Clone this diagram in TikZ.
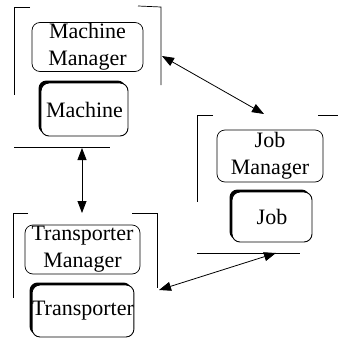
\documentclass[tikz,border=0pt]{standalone}
\usepackage{fontspec}
\setmainfont{Liberation Serif}
\usetikzlibrary{arrows.meta,shadows}
\begin{document}
\begin{tikzpicture}[x=1pt,y=-1pt,
  mgr/.style={draw,rounded corners=8pt,line width=0.7pt,inner sep=0pt,align=center,
    font=\fontsize{22}{27}\selectfont,fill=white},
  obj/.style={draw,rounded corners=8pt,line width=0.9pt,inner sep=0pt,align=center,
    font=\fontsize{22}{27}\selectfont,fill=white,
    drop shadow={shadow xshift=-2.5pt,shadow yshift=2.5pt,fill=black,opacity=1}},
  frame/.style={line width=0.7pt},
  link/.style={line width=0.8pt,{Triangle[length=12pt,width=9pt]}-{Triangle[length=12pt,width=9pt]}}]
\useasboundingbox (0,0) rectangle (338,351);
% Machine group
\draw[frame] (30,7) -- (14,7) -- (14,95);
\draw[frame] (138,6) -- (161,7) -- (161,85);
\draw[frame] (14,147) -- (110,147);
\node[mgr,minimum width=111pt,minimum height=49pt] (mm) at (87.5,47) {Machine\\Manager};
\node[obj,minimum width=87pt,minimum height=53pt] (m) at (84.5,109.5) {Machine};
% Job group
\draw[frame] (213,115) -- (197,115) -- (197,202);
\draw[frame] (318,115) -- (338,115);
\draw[frame] (197,253) -- (300,253);
\node[mgr,minimum width=106pt,minimum height=52pt] (jm) at (270,156) {Job\\Manager};
\node[obj,minimum width=80pt,minimum height=50pt] (j) at (272,217) {Job};
% Transporter group
\draw[frame] (28,213) -- (13,213) -- (13,298);
\draw[frame] (132,213) -- (157,213) -- (157,288);
\node[mgr,minimum width=115pt,minimum height=49pt] (tm) at (82.5,249.5) {Transporter\\Manager};
\node[obj,minimum width=100pt,minimum height=52pt] (t) at (83,311) {Transporter};
% connector ends
\coordinate (a1) at (162,56);
\coordinate (a2) at (264,114);
\coordinate (b1) at (82,148);
\coordinate (b2) at (82,213);
\coordinate (c1) at (159,290);
\coordinate (c2) at (276,253);
\draw[link] (a1) -- (a2);
\draw[link] (b1) -- (b2);
\draw[link] (c1) -- (c2);
\end{tikzpicture}
\end{document}
